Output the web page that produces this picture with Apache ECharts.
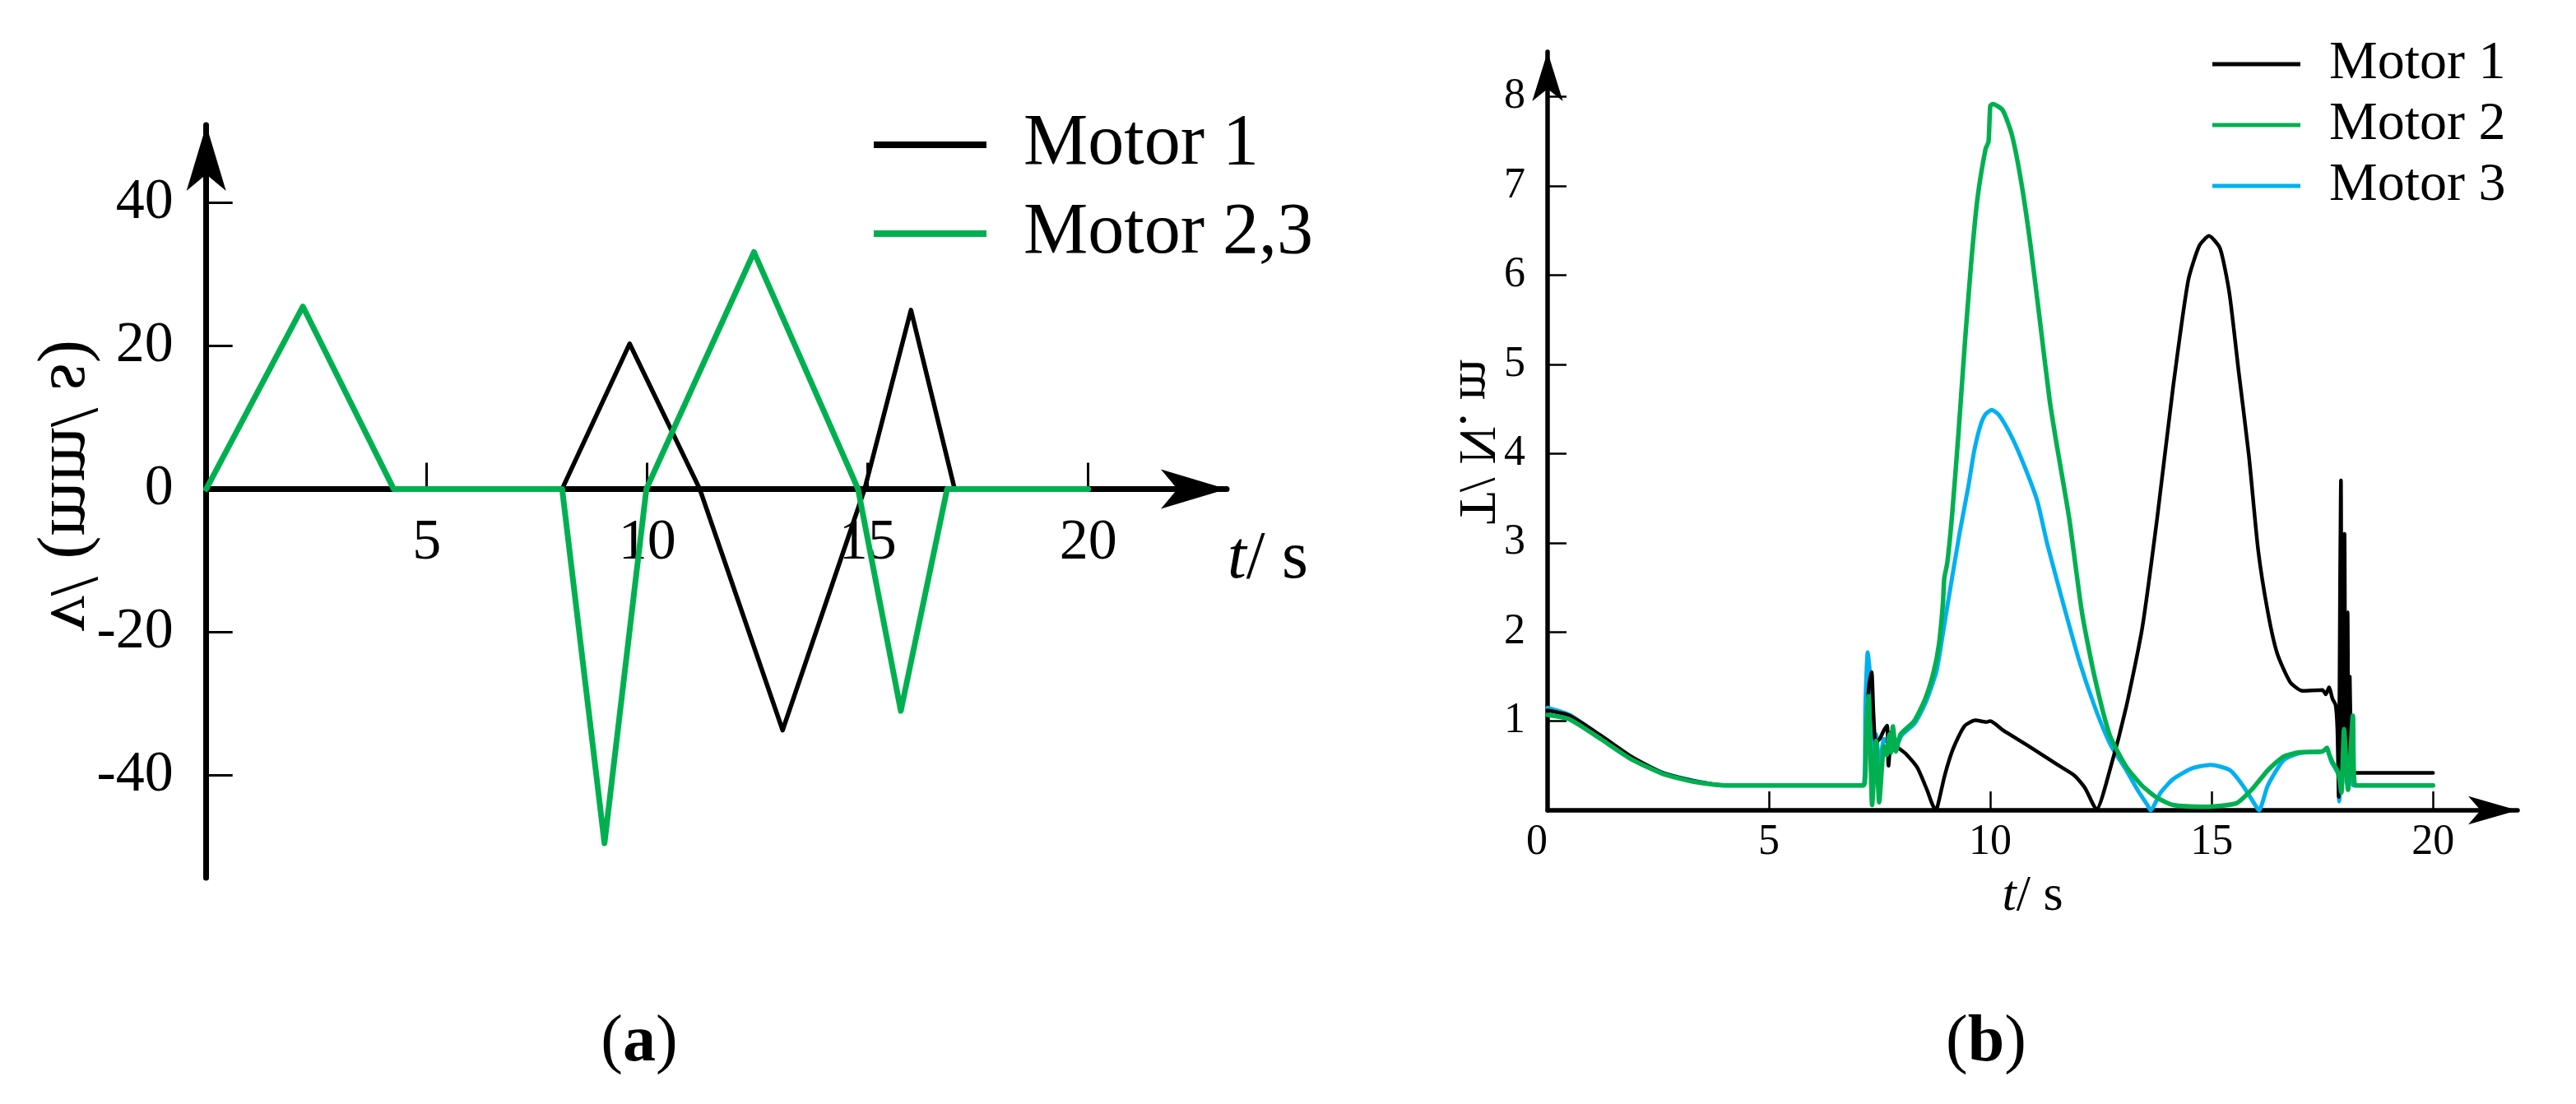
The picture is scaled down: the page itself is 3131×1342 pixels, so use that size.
<!DOCTYPE html>
<html><head><meta charset="utf-8">
<script src="https://cdn.jsdelivr.net/npm/echarts@6/dist/echarts.min.js"></script>
<style>html,body{margin:0;padding:0;background:#fff}#c{width:3131px;height:1342px}</style>
</head><body><div id="c"></div>
<script>
const FONT = 'Liberation Serif';
// ---- panel (a): velocity ----
const tTicksA = [5, 10, 15, 20];
const vTicksA = [-40, -20, 0, 20, 40];
const motor1A = [[0,0],[8.07,0],[9.6,20.3],[11.19,0],[13.07,-33.7],[14.93,0],[15.98,25],[16.97,0],[20,0]];
const motor23A = [[0,0],[2.19,25.5],[4.25,0],[8.07,0],[9.03,-49.5],[9.98,0],[12.42,33.1],[14.78,0],[15.75,-31],[16.8,0],[20,0]];
// ---- panel (b): torque ----
const tTicksB = [0, 5, 10, 15, 20];
const vTicksB = [1, 2, 3, 4, 5, 6, 7, 8];
const motor1B = [[0,1.12],[0.5,1.06],[1.2,0.84],[1.9,0.6],[2.6,0.42],[3.3,0.33],[4.0,0.28],[7.14,0.28],[7.2,0.9],[7.26,1.4],[7.32,1.55],[7.36,1.1],[7.41,0.76],[7.5,0.8],[7.6,0.9],[7.67,0.95],[7.7,0.5],[7.77,0.88],[7.85,0.72],[7.95,0.69],[8.1,0.63],[8.35,0.48],[8.57,0.23],[8.75,0.02],[8.8,0.03],[8.97,0.39],[9.16,0.69],[9.41,0.94],[9.66,1.01],[9.9,0.99],[10.0,1.0],[10.28,0.9],[10.9,0.71],[11.52,0.51],[11.9,0.39],[12.14,0.25],[12.4,0.01],[12.7,0.45],[13.07,1.16],[13.43,2.04],[13.77,3.28],[14.13,4.75],[14.47,5.94],[14.72,6.33],[14.94,6.44],[15.19,6.3],[15.4,5.8],[15.61,4.92],[15.84,3.98],[16.05,2.92],[16.27,2.22],[16.48,1.76],[16.77,1.44],[17.05,1.34],[17.5,1.35],[17.58,1.3],[17.65,1.38],[17.73,1.25],[17.8,1.18],[17.84,0.9],[17.87,0.15],[17.9,2.5],[17.92,3.7],[17.94,0.3],[17.97,2.8],[18.0,3.1],[18.02,0.6],[18.05,2.0],[18.07,2.22],[18.09,0.5],[18.12,1.5],[18.15,0.6],[18.18,0.5],[18.2,0.42],[20.0,0.42]];
const motor2B = [[0,1.07],[0.5,1.02],[1.2,0.8],[1.9,0.57],[2.6,0.41],[3.3,0.32],[4.0,0.28],[7.14,0.28],[7.2,0.9],[7.25,1.28],[7.29,0.7],[7.33,0.06],[7.42,0.78],[7.49,0.09],[7.6,0.72],[7.66,0.62],[7.72,0.85],[7.76,0.65],[7.8,0.94],[7.87,0.66],[7.97,0.85],[8.28,1.0],[8.53,1.25],[8.72,1.55],[8.84,1.86],[8.93,2.32],[8.96,2.6],[9.03,2.78],[9.14,3.33],[9.28,4.22],[9.43,5.27],[9.57,6.15],[9.71,6.86],[9.89,7.41],[9.96,7.5],[10.0,7.9],[10.06,7.92],[10.28,7.85],[10.49,7.57],[10.7,7.04],[10.91,6.33],[11.13,5.45],[11.34,4.6],[11.5,4.1],[11.78,3.28],[12.07,2.22],[12.35,1.51],[12.7,0.84],[13.07,0.49],[13.42,0.28],[13.77,0.14],[14.13,0.06],[14.85,0.04],[15.56,0.08],[15.92,0.24],[16.27,0.45],[16.62,0.6],[16.98,0.65],[17.5,0.66],[17.6,0.7],[17.66,0.62],[17.73,0.54],[17.86,0.42],[17.93,0.2],[17.99,0.91],[18.08,0.23],[18.19,1.06],[18.24,0.28],[20,0.28]];
const motor3B = [[0,1.15],[0.5,1.07],[1.2,0.83],[1.9,0.59],[2.6,0.42],[3.3,0.33],[4.0,0.28],[7.14,0.28],[7.18,1.2],[7.23,1.77],[7.27,1.6],[7.31,0.9],[7.35,0.3],[7.42,0.85],[7.5,0.5],[7.6,0.8],[7.7,0.75],[7.8,0.85],[7.9,0.75],[8.0,0.84],[8.3,0.98],[8.55,1.22],[8.78,1.55],[8.92,1.95],[9.04,2.32],[9.3,3.09],[9.5,3.62],[9.64,4.04],[9.78,4.32],[9.89,4.44],[10.03,4.49],[10.2,4.43],[10.49,4.18],[10.77,3.86],[11.06,3.47],[11.28,3.0],[11.64,2.33],[12.0,1.69],[12.36,1.16],[12.71,0.74],[13.07,0.45],[13.35,0.21],[13.56,0.05],[13.62,0.0],[13.85,0.2],[14.13,0.35],[14.55,0.47],[14.98,0.51],[15.41,0.45],[15.7,0.28],[16.02,0.03],[16.07,0.0],[16.27,0.28],[16.62,0.56],[16.98,0.64],[17.5,0.66],[17.6,0.69],[17.7,0.55],[17.86,0.4],[17.88,0.1],[17.95,0.6],[18.0,0.9],[18.05,0.3],[18.1,0.8],[18.2,0.28],[20,0.28]];

const BLACK = '#000000', GREEN = '#00B050', BLUE = '#00B0F0';
const chart = echarts.init(document.getElementById('c'));

function lineSeries(name, data, color, width, xi, z, smooth) {
  return { type: 'line', name, data, xAxisIndex: xi, yAxisIndex: xi, showSymbol: false, symbol: 'none',
    smooth: smooth || false,
    z, animation: false, itemStyle: { color }, lineStyle: { color, width, join: 'round', cap: 'round' } };
}

chart.setOption({
  animation: false,
  backgroundColor: '#ffffff',
  grid: [
    { left: 250.7, top: 152, width: 1240.3, height: 915, outerBoundsMode: 'none', containLabel: false },
    { left: 1881, top: 63, width: 1179, height: 922, outerBoundsMode: 'none', containLabel: false }
  ],
  xAxis: [
    { type: 'value', gridIndex: 0, min: 0, max: 23.14, offset: -472.6,
      axisLine: { onZero: false, symbol: ['none', 'arrow'], symbolSize: [36, 80], lineStyle: { color: BLACK, width: 7 } },
      axisTick: { inside: true, length: 32, customValues: tTicksA, lineStyle: { color: BLACK, width: 3 } },
      axisLabel: { customValues: tTicksA, margin: 31, color: BLACK, fontFamily: FONT, fontSize: 70 },
      splitLine: { show: false } },
    { type: 'value', gridIndex: 1, min: 0, max: 21.91,
      name: '{i|t}/ s', nameLocation: 'middle', nameGap: 74,
      nameTextStyle: { color: BLACK, fontFamily: FONT, fontSize: 62,
        rich: { i: { fontStyle: 'italic', fontFamily: FONT, fontSize: 62, color: BLACK } } },
      axisLine: { onZero: false, symbol: ['none', 'arrow'], symbolSize: [26, 60], lineStyle: { color: BLACK, width: 5.5 } },
      axisTick: { inside: true, length: 23, customValues: tTicksB.filter(v => v > 0), lineStyle: { color: BLACK, width: 2.5 } },
      axisLabel: { customValues: tTicksB, margin: 13, color: BLACK, fontFamily: FONT, fontSize: 52, alignMinLabel: 'right' },
      splitLine: { show: false } }
  ],
  yAxis: [
    { type: 'value', gridIndex: 0, min: -54.32, max: 50.85,
      axisLine: { onZero: false, symbol: ['none', 'arrow'], symbolSize: [36, 80], lineStyle: { color: BLACK, width: 7 } },
      axisTick: { inside: true, length: 32, customValues: vTicksA, lineStyle: { color: BLACK, width: 3 } },
      axisLabel: { customValues: vTicksA, margin: 40, color: BLACK, fontFamily: FONT, fontSize: 70 },
      splitLine: { show: false } },
    { type: 'value', gridIndex: 1, min: 0, max: 8.505,
      axisLine: { onZero: false, symbol: ['none', 'arrow'], symbolSize: [28, 60], lineStyle: { color: BLACK, width: 5.5 } },
      axisTick: { inside: true, length: 23, customValues: vTicksB, lineStyle: { color: BLACK, width: 2.5 } },
      axisLabel: { customValues: vTicksB, margin: 27, color: BLACK, fontFamily: FONT, fontSize: 52 },
      splitLine: { show: false } }
  ],
  legend: [
    { data: ['Motor 1', 'Motor 2,3'], orient: 'vertical', left: 1057, top: 127, itemWidth: 137, itemHeight: 8,
      itemGap: 20, icon: 'rect', selectedMode: false,
      textStyle: { color: BLACK, fontFamily: FONT, fontSize: 88, padding: [0, 0, 0, 40] } },
    { data: ['Motor 1', 'Motor 2', 'Motor 3'], orient: 'vertical', left: 2684, top: 40, itemWidth: 107, itemHeight: 5,
      itemGap: 8, icon: 'rect', selectedMode: false,
      textStyle: { color: BLACK, fontFamily: FONT, fontSize: 66, padding: [0, 0, 0, 30] } }
  ],
  graphic: [
    { type: 'text', x: 85, y: 590, rotation: Math.PI / 2, scaleY: -1,
      style: { text: 'v/ (mm/ s)', fontFamily: FONT, fontSize: 85, fill: BLACK, align: 'center', verticalAlign: 'middle' } },
    { type: 'text', x: 1792, y: 537, rotation: Math.PI / 2, scaleY: -1,
      style: { text: 'T/ N. m', fontFamily: FONT, fontSize: 64, fill: BLACK, align: 'center', verticalAlign: 'middle' } },
    { type: 'text', x: 1541, y: 680,
      style: { text: '{i|t}/ s', fontFamily: FONT, fontSize: 82, fill: BLACK, align: 'center', verticalAlign: 'middle',
        rich: { i: { fontStyle: 'italic', fontFamily: FONT, fontSize: 82, fill: BLACK } } } },
    { type: 'text', x: 777, y: 1268,
      style: { text: '({b|a})', fontFamily: FONT, fontSize: 80, fill: BLACK, align: 'center', verticalAlign: 'middle',
        rich: { b: { fontWeight: 'bold', fontFamily: FONT, fontSize: 80, fill: BLACK } } } },
    { type: 'text', x: 2414, y: 1268,
      style: { text: '({b|b})', fontFamily: FONT, fontSize: 80, fill: BLACK, align: 'center', verticalAlign: 'middle',
        rich: { b: { fontWeight: 'bold', fontFamily: FONT, fontSize: 80, fill: BLACK } } } }
  ],
  series: [
    lineSeries('Motor 1', motor1A, BLACK, 5.5, 0, 3),
    lineSeries('Motor 2,3', motor23A, GREEN, 7, 0, 4),
    lineSeries('Motor 1', motor1B, BLACK, 4.5, 1, 3, 0.2),
    lineSeries('Motor 3', motor3B, BLUE, 5, 1, 2, 0.2),
    lineSeries('Motor 2', motor2B, GREEN, 5.5, 1, 4, 0.2)
  ]
});
</script></body></html>
